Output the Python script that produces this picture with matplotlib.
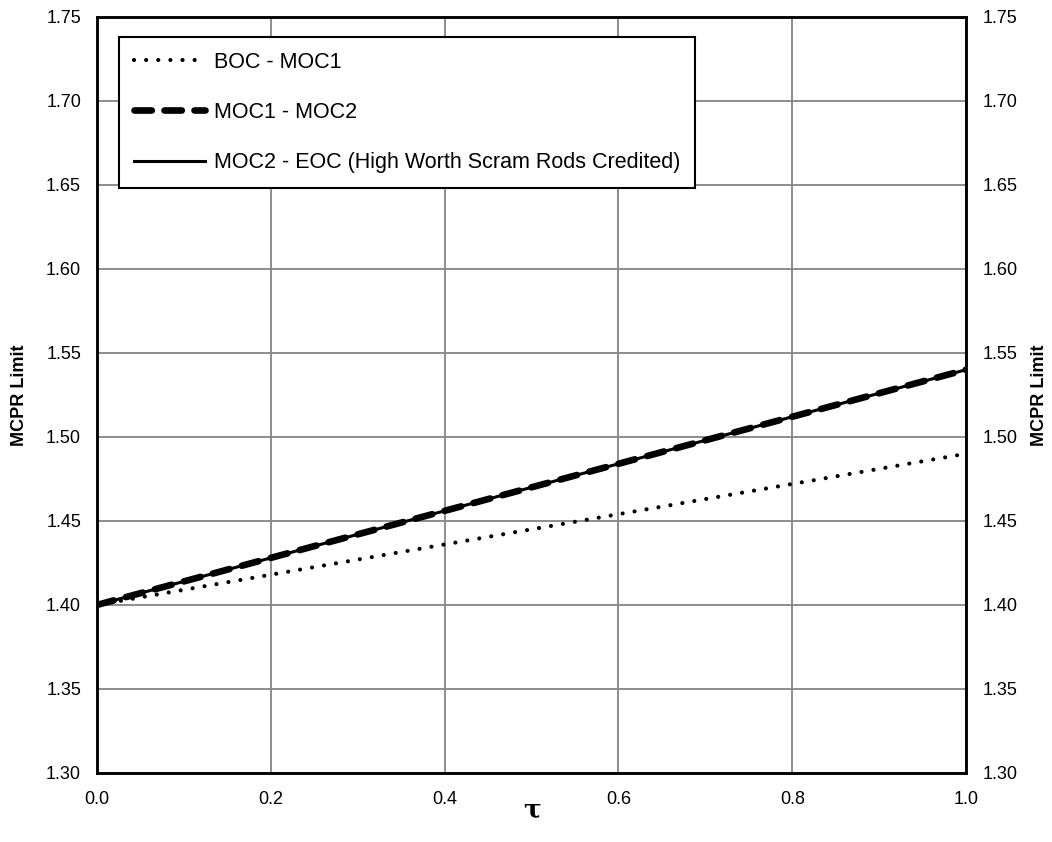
import matplotlib
matplotlib.use('Agg')
import matplotlib.pyplot as plt
import numpy as np

plt.rcParams['font.family'] = ['Liberation Sans', 'DejaVu Sans']

# data
tau = [0.0, 0.2, 0.4, 0.6, 0.8, 1.0]
boc_moc1 = [1.400, 1.418, 1.436, 1.454, 1.472, 1.490]
moc1_moc2 = [1.400, 1.428, 1.456, 1.484, 1.512, 1.540]
moc2_eoc = [1.400, 1.428, 1.456, 1.484, 1.512, 1.540]

labels = ['BOC - MOC1', 'MOC1 - MOC2', 'MOC2 - EOC (High Worth Scram Rods Credited)']
xticks = np.arange(0, 1.01, 0.2)
yticks = np.arange(1.30, 1.751, 0.05)

fig = plt.figure(figsize=(10.52, 8.42), dpi=100)
ax = fig.add_axes([0.0922, 0.082, 0.8262, 0.898])

p3 = ax.plot(tau, moc2_eoc, color='black', linewidth=2.2, linestyle='-', zorder=3)
p2 = ax.plot(tau, moc1_moc2, color='black', linewidth=4.8, dashes=(2.6, 1.9),
             dash_capstyle='round', solid_capstyle='round', zorder=4)
p1 = ax.plot(tau, boc_moc1, color='black', linewidth=3.0, dashes=(0.01, 2.9),
             dash_capstyle='round', zorder=4)

ax.set_xlim(0, 1.0)
ax.set_ylim(1.30, 1.75)
ax.set_xticks(xticks)
ax.set_yticks(yticks)
ax.xaxis.set_major_formatter(matplotlib.ticker.FormatStrFormatter('%.1f'))
ax.yaxis.set_major_formatter(matplotlib.ticker.FormatStrFormatter('%.2f'))
ax.grid(color='#858585', linewidth=1.3)
ax.set_axisbelow(True)
for s in ax.spines.values():
    s.set_linewidth(1.8)
ax.tick_params(axis='y', labelsize=13, length=0, pad=11.5)
ax.tick_params(axis='x', labelsize=13, length=0, pad=13)

ax2 = ax.twinx()
ax2.set_ylim(1.30, 1.75)
ax2.set_yticks(yticks)
ax2.yaxis.set_major_formatter(matplotlib.ticker.FormatStrFormatter('%.2f'))
ax2.tick_params(labelsize=13, length=0, pad=12)
for s in ax2.spines.values():
    s.set_linewidth(1.8)

ax.set_ylabel('MCPR Limit', fontsize=13, fontweight='bold')
ax.yaxis.set_label_coords(-0.079, 0.5)
ax2.set_ylabel('MCPR Limit', fontsize=13, fontweight='bold')
ax2.yaxis.set_label_coords(1.075, 0.5)
ax.set_xlabel('τ', fontsize=19, fontweight='bold', family='DejaVu Serif')
ax.xaxis.set_label_coords(0.5, -0.032)

leg = ax.legend((p1[0], p2[0], p3[0]), labels, loc='upper left',
                bbox_to_anchor=(0.025, 0.9735), fontsize=15.5, frameon=True,
                fancybox=False, edgecolor='black', framealpha=1,
                handlelength=3.3, handletextpad=0.42, labelspacing=1.35,
                borderpad=0.7, borderaxespad=0)
leg.get_frame().set_linewidth(1.5)

fig.savefig('out.png', dpi=100)
